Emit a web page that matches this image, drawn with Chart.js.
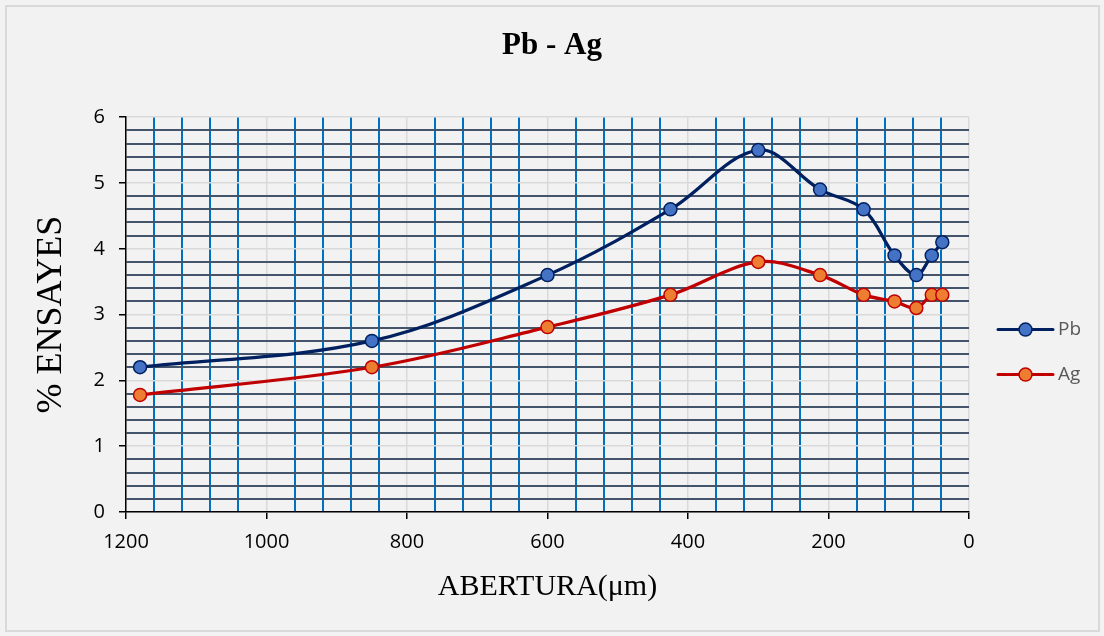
<!DOCTYPE html>
<html>
<head>
<meta charset="utf-8">
<script src="https://cdn.jsdelivr.net/npm/chart.js@4/dist/chart.umd.min.js"></script>
<style>
  body { margin: 0; background: #f2f2f2; }
  #wrap { position: relative; width: 1104px; height: 636px; }
  #frame { position: absolute; left: 5px; top: 5px; width: 1091px; height: 623px;
           border: 2px solid #d9d9d9; pointer-events: none; }
</style>
</head>
<body>
<div id="wrap">
  <canvas id="chart" width="1104" height="636"></canvas>
  <div id="frame"></div>
</div>
<script>
// sieve openings (um) and assays (%)
const abertura = [1180, 850, 600, 425, 300, 212, 150, 106, 75, 53, 38];
const pb = [2.2, 2.6, 3.6, 4.6, 5.5, 4.9, 4.6, 3.9, 3.6, 3.9, 4.1];
const ag = [1.78, 2.2, 2.81, 3.3, 3.8, 3.6, 3.3, 3.2, 3.1, 3.3, 3.3];
const seriesNames = ['Pb', 'Ag'];

function isMajorX(v) { return Math.abs(v % 200) < 1e-6; }
function isMajorY(v) { return Math.abs(v - Math.round(v)) < 1e-6; }

// legend drawn Excel style: line with a marker in the middle
const lineLegend = {
  id: 'lineLegend',
  afterDraw(chart) {
    const ctx = chart.ctx;
    const a = chart.chartArea;
    const mid = (a.top + a.bottom) / 2;
    chart.data.datasets.forEach(function(ds, i) {
      const y = mid + 15 + i * 45;
      const x0 = a.right + 29;
      ctx.save();
      ctx.strokeStyle = ds.borderColor;
      ctx.lineWidth = 3;
      ctx.lineCap = 'round';
      ctx.beginPath();
      ctx.moveTo(x0, y);
      ctx.lineTo(x0 + 55, y);
      ctx.stroke();
      ctx.beginPath();
      ctx.arc(x0 + 27.5, y, 6.5, 0, Math.PI * 2);
      ctx.fillStyle = ds.pointBackgroundColor;
      ctx.fill();
      ctx.lineWidth = 1.5;
      ctx.strokeStyle = ds.pointBorderColor;
      ctx.stroke();
      ctx.fillStyle = '#595959';
      ctx.font = '19px "Open Sans"';
      ctx.textBaseline = 'middle';
      ctx.fillText(ds.label, x0 + 60, y);
      ctx.restore();
    });
  }
};

new Chart(document.getElementById('chart'), {
  type: 'line',
  data: {
    datasets: [{
      label: seriesNames[0],
      data: abertura.map((x, i) => ({x: x, y: pb[i]})),
      borderColor: '#002060',
      borderWidth: 3.25,
      pointBackgroundColor: '#4472c4',
      pointBorderColor: '#002060',
      pointBorderWidth: 1.5,
      pointRadius: 6.5,
      tension: 0.35
    }, {
      label: seriesNames[1],
      data: abertura.map((x, i) => ({x: x, y: ag[i]})),
      borderColor: '#c00000',
      borderWidth: 3.25,
      pointBackgroundColor: '#ed7d31',
      pointBorderColor: '#c00000',
      pointBorderWidth: 1.5,
      pointRadius: 6.5,
      tension: 0.35
    }]
  },
  options: {
    responsive: false,
    animation: false,
    clip: false,
    layout: { padding: 0 },
    plugins: {
      legend: { display: false },
      tooltip: { enabled: false },
      title: {
        display: true,
        text: 'Pb - Ag',
        color: '#000',
        font: { family: '"Liberation Serif"', size: 31, weight: 'bold' },
        padding: { top: 27, bottom: 53 }
      }
    },
    scales: {
      x: {
        type: 'linear',
        reverse: true,
        min: 0,
        max: 1200,
        afterFit(s) { s.height = 124; },
        ticks: {
          stepSize: 40,
          autoSkip: false,
          maxRotation: 0,
          padding: 11,
          color: '#000',
          font: { family: '"Open Sans"', size: 20 },
          callback: v => isMajorX(v) ? String(v) : ''
        },
        grid: {
          color: c => isMajorX(c.tick.value) ? '#d9d9d9' : '#0070c0',
          lineWidth: c => isMajorX(c.tick.value) ? 1.5 : 2,
          tickColor: c => isMajorX(c.tick.value) ? '#000' : 'rgba(0,0,0,0)',
          tickWidth: 1.5,
          tickLength: 7
        },
        border: { color: '#000', width: 1.5 },
        title: {
          display: true,
          text: 'ABERTURA(\u03bcm)',
          color: '#000',
          font: { family: '"Liberation Serif"', size: 30 },
          padding: { top: 0, bottom: 31 }
        }
      },
      y: {
        min: 0,
        max: 6,
        afterFit(s) { s.width = 126; },
        ticks: {
          stepSize: 0.2,
          autoSkip: false,
          padding: 14,
          color: '#000',
          font: { family: '"Open Sans"', size: 20 },
          callback: v => isMajorY(v) ? String(Math.round(v)) : ''
        },
        grid: {
          color: c => isMajorY(c.tick.value) ? '#d9d9d9' : '#44546a',
          lineWidth: c => isMajorY(c.tick.value) ? 1.5 : 2,
          tickColor: c => isMajorY(c.tick.value) ? '#000' : 'rgba(0,0,0,0)',
          tickWidth: 1.5,
          tickLength: 7
        },
        border: { color: '#000', width: 1.5 },
        title: {
          display: true,
          text: '% ENSAYES',
          color: '#000',
          font: { family: '"Liberation Serif"', size: 36 },
          padding: { top: 30, bottom: 0 }
        }
      },
      // empty right-hand box that reserves room for the legend
      legendSpace: {
        position: 'right',
        afterFit(s) { s.width = 135; },
        ticks: { display: false },
        grid: { display: false, drawTicks: false },
        border: { display: false }
      }
    }
  },
  plugins: [lineLegend]
});
</script>
</body>
</html>
